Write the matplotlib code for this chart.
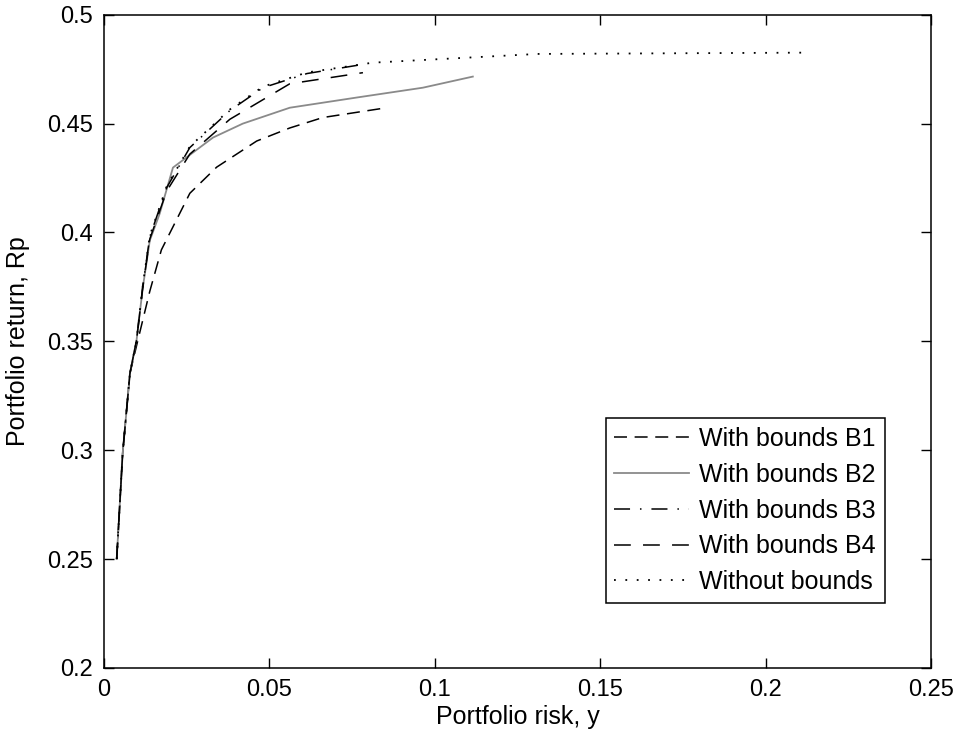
#!/usr/bin/env python3
import matplotlib
matplotlib.use('Agg')
import matplotlib.pyplot as plt

# efficient frontiers (risk y, return Rp)
b1_risk = [0.0039, 0.0057, 0.0079, 0.0099, 0.0139, 0.0174, 0.026, 0.0341, 0.0462, 0.0562, 0.0662, 0.0855]
b1_ret = [0.25, 0.2986, 0.3353, 0.348, 0.373, 0.392, 0.418, 0.430, 0.442, 0.448, 0.4528, 0.4573]

b2_risk = [0.0039, 0.0057, 0.0079, 0.0099, 0.0118, 0.0139, 0.0169, 0.0209, 0.033, 0.042, 0.0562, 0.0765, 0.0964, 0.1115]
b2_ret = [0.25, 0.2986, 0.3353, 0.3505, 0.3748, 0.3963, 0.4087, 0.4298, 0.4436, 0.45, 0.4573, 0.462, 0.4665, 0.4716]

b3_risk = [0.0039, 0.0057, 0.0079, 0.0099, 0.0118, 0.0139, 0.019, 0.026, 0.0381, 0.0481, 0.0614, 0.0795]
b3_ret = [0.25, 0.2986, 0.3353, 0.3505, 0.3755, 0.398, 0.4206, 0.439, 0.456, 0.4665, 0.473, 0.4775]

b4_risk = [0.0039, 0.0057, 0.0079, 0.0099, 0.0118, 0.0139, 0.019, 0.026, 0.0381, 0.042, 0.0562, 0.0783]
b4_ret = [0.25, 0.2986, 0.3353, 0.3505, 0.375, 0.397, 0.419, 0.436, 0.452, 0.4555, 0.4683, 0.4734]

nb_risk = [0.0039, 0.0057, 0.0079, 0.0099, 0.0118, 0.0139, 0.019, 0.026, 0.0381, 0.0481, 0.0614, 0.0813, 0.131, 0.212]
nb_ret = [0.25, 0.2986, 0.3353, 0.3505, 0.3758, 0.3985, 0.4212, 0.4395, 0.4565, 0.467, 0.4735, 0.478, 0.482, 0.4826]

plt.rcParams['font.family'] = ['Liberation Sans', 'DejaVu Sans']

fig = plt.figure(figsize=(9.61, 7.38), dpi=100)
ax = fig.add_axes([0.108, 0.095, 0.861, 0.885])

lw = 1.1
ax.plot(b1_risk, b1_ret, color='black', linestyle=(0, (8.5, 5)), linewidth=lw, label='With bounds B1')
ax.plot(b2_risk, b2_ret, color='#8a8a8a', linestyle='-', linewidth=1.3, label='With bounds B2')
ax.plot(b3_risk, b3_ret, color='black', linestyle=(0, (10.5, 6.5, 1, 6.5)), linewidth=lw, label='With bounds B3')
ax.plot(b4_risk, b4_ret, color='black', linestyle=(0, (11, 8)), linewidth=lw, label='With bounds B4')
ax.plot(nb_risk, nb_ret, color='black', linestyle=(0, (1, 5.3)), linewidth=1.3, label='Without bounds')

ax.set_xlim(0, 0.25)
ax.set_ylim(0.2, 0.5)
ax.set_xticks([0, 0.05, 0.1, 0.15, 0.2, 0.25])
ax.set_xticklabels(['0', '0.05', '0.1', '0.15', '0.2', '0.25'])
ax.set_yticks([0.2, 0.25, 0.3, 0.35, 0.4, 0.45, 0.5])
ax.set_yticklabels(['0.2', '0.25', '0.3', '0.35', '0.4', '0.45', '0.5'])
ax.tick_params(direction='in', top=True, right=True, length=7, width=1, labelsize=17, pad=8)
for s in ax.spines.values():
    s.set_linewidth(1.1)

ax.set_xlabel('Portfolio risk, y', fontsize=18, labelpad=3)
ax.set_ylabel('Portfolio return, Rp', fontsize=18, labelpad=12)

leg = ax.legend(loc='lower right', bbox_to_anchor=(0.944, 0.0995), borderaxespad=0,
                fontsize=18, fancybox=False, edgecolor='black', framealpha=1,
                handlelength=3.0, labelspacing=0.47, borderpad=0.35, handletextpad=0.4)
leg.get_frame().set_linewidth(1.1)

fig.savefig('out.png', dpi=100)
